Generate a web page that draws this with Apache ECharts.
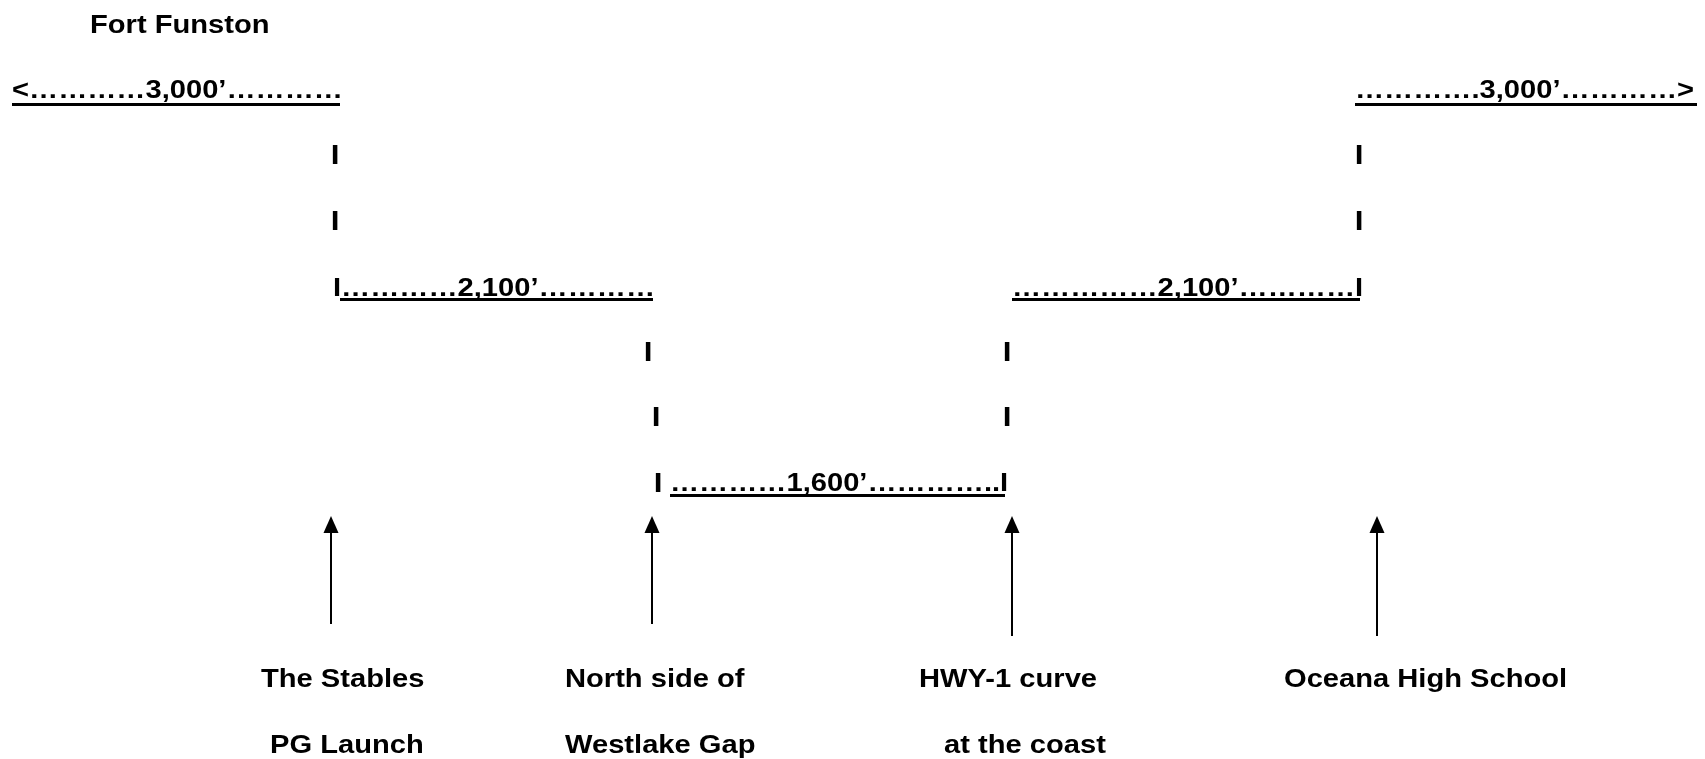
<!DOCTYPE html>
<html><head><meta charset="utf-8">
<script src="https://cdn.jsdelivr.net/npm/echarts@6/dist/echarts.min.js"></script>
<style>html,body{margin:0;padding:0;background:#fff}#c{width:1705px;height:759px}</style>
</head><body><div id="c"></div>
<script>
// ---- content ----
const titleText = 'Fort Funston';
const distanceLabels = ['3,000’', '2,100’', '1,600’', '2,100’', '3,000’'];
const placeLine1 = ['The Stables', 'North side of', 'HWY-1 curve', 'Oceana High School'];
const placeLine2 = ['PG Launch', 'Westlake Gap', 'at the coast'];
const segmentPrefix = ['<…………', 'I…………', '…………', '……………', '………….'];
const segmentSuffix = ['…………', '…………', '…………..I', '…………I', '…………>'];
const tickGlyph = 'I';

// ---- layout (diagram coordinates, px-like) ----
const titlePos = [90, 26];
const segmentPos = [[12, 91], [333, 289], [670, 484], [1012, 289], [1355, 91]];
const underlines = [[12, 340, 104], [340, 653, 299.5], [670, 1005, 495], [1012, 1360, 299.5], [1355, 1697, 104]];
const tickPos = [[335, 156], [335, 222], [1359, 156], [1359, 222], [648, 353], [656, 418], [1007, 353], [1007, 418], [658, 484]];
const arrowPos = [[331, 516, 624], [652, 516, 624], [1012, 516, 636], [1377, 516, 636]];
const place1Pos = [[261, 680], [565, 680], [919, 680], [1284, 680]];
const place2Pos = [[270, 746], [565, 746], [944, 746]];

const SX = 1.12;
const FONT = '"Liberation Sans", Arial, sans-serif';

// build text table
const texts = [];
function addText(str, pos, size, align) {
  texts.push({ str, x: pos[0], y: pos[1], size, align });
}
addText(titleText, titlePos, 26, 'left');
distanceLabels.forEach((d, i) => addText(segmentPrefix[i] + d + segmentSuffix[i], segmentPos[i], 26, 'left'));
tickPos.forEach(p => addText(tickGlyph, p, 28, 'center'));
placeLine1.forEach((t, i) => addText(t, place1Pos[i], 26, 'left'));
placeLine2.forEach((t, i) => addText(t, place2Pos[i], 26, 'left'));

const chart = echarts.init(document.getElementById('c'), null, { renderer: 'canvas' });
chart.setOption({
  animation: false,
  backgroundColor: '#fff',
  grid: { left: 0, right: 0, top: 0, bottom: 0 },
  xAxis: { type: 'value', min: 0, max: 1705, show: false },
  yAxis: { type: 'value', min: 0, max: 759, inverse: true, show: false },
  series: [
    {
      type: 'lines',
      coordinateSystem: 'cartesian2d',
      symbol: 'none',
      lineStyle: { color: '#000', width: 3, opacity: 1 },
      data: underlines.map(u => ({ coords: [[u[0], u[2]], [u[1], u[2]]] }))
    },
    {
      type: 'custom',
      coordinateSystem: 'cartesian2d',
      clip: false,
      data: arrowPos.map(a => [a[0], a[1], a[2]]),
      renderItem: function (params, api) {
        const tip = api.coord([api.value(0), api.value(1)]);
        const base = api.coord([api.value(0), api.value(2)]);
        const hw = 7.5, hl = 17;
        return {
          type: 'group',
          children: [
            { type: 'line', shape: { x1: tip[0], y1: tip[1] + hl - 1, x2: base[0], y2: base[1] }, style: { stroke: '#000', lineWidth: 2 } },
            { type: 'polygon', shape: { points: [[tip[0], tip[1]], [tip[0] - hw, tip[1] + hl], [tip[0] + hw, tip[1] + hl]] }, style: { fill: '#000' } }
          ]
        };
      }
    },
    {
      type: 'custom',
      coordinateSystem: 'cartesian2d',
      clip: false,
      data: texts.map(t => [t.x, t.y]),
      renderItem: function (params, api) {
        const t = texts[params.dataIndex];
        const p = api.coord([api.value(0), api.value(1)]);
        return {
          type: 'text',
          x: p[0], y: p[1],
          scaleX: SX,
          style: {
            text: t.str,
            fontSize: t.size,
            fontWeight: 'bold',
            fontFamily: FONT,
            fill: '#000',
            align: t.align,
            verticalAlign: 'middle'
          }
        };
      }
    }
  ]
});
</script>
</body></html>
